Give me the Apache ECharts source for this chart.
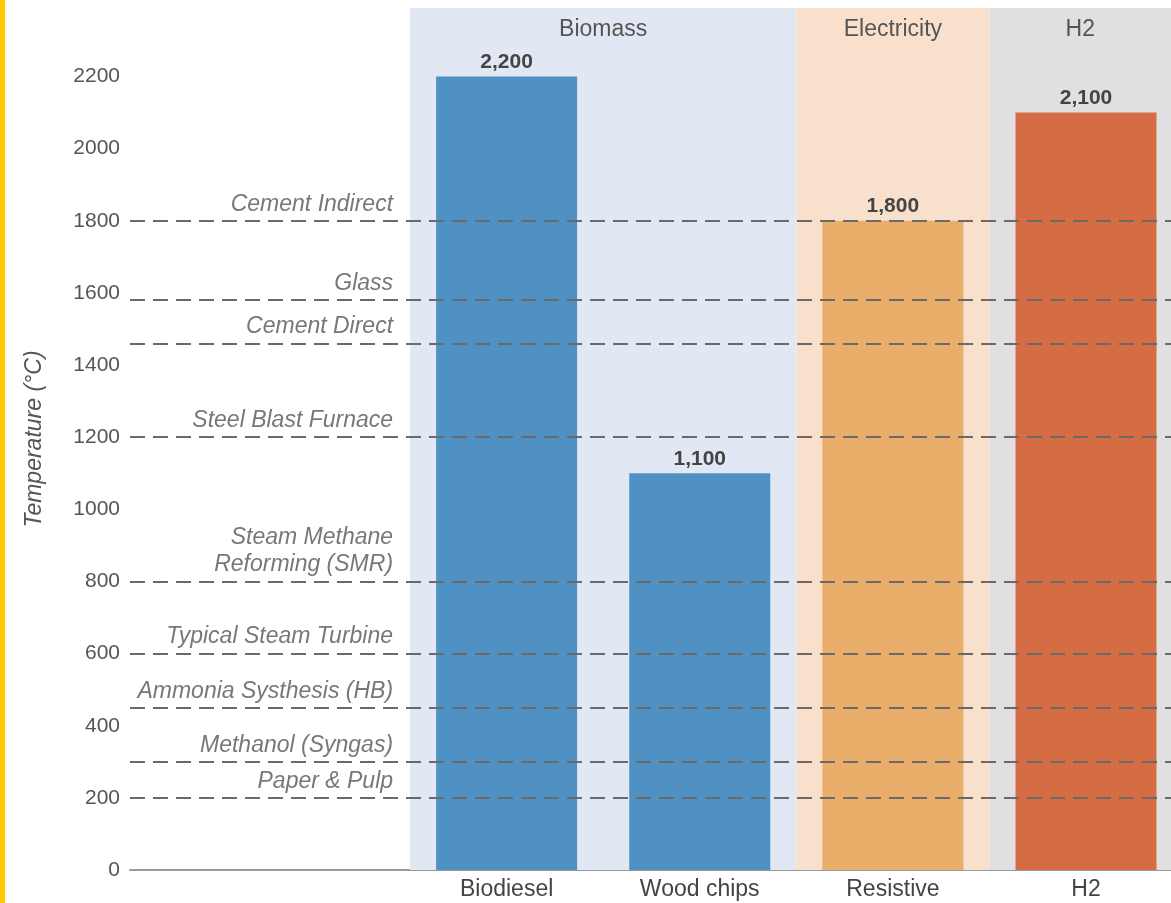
<!DOCTYPE html>
<html>
<head>
<meta charset="utf-8">
<script src="https://cdn.jsdelivr.net/npm/echarts@6/dist/echarts.min.js"></script>
<style>
html,body{margin:0;padding:0;background:#fff;}
#chart{width:1171px;height:903px;}
</style>
</head>
<body>
<div id="chart"></div>
<script>
// ---- data ----
const categories = ['Biodiesel', 'Wood chips', 'Resistive', 'H2'];
const temps = [2200, 1100, 1800, 2100];
const groups = ['Biomass', 'Biomass', 'Electricity', 'H2'];
const processes = ['Cement Indirect', 'Glass', 'Cement Direct', 'Steel Blast Furnace',
  'Steam Methane\nReforming (SMR)', 'Typical Steam Turbine', 'Ammonia Systhesis (HB)',
  'Methanol (Syngas)', 'Paper & Pulp'];
const processTemps = [1800, 1580, 1460, 1200, 800, 600, 450, 300, 200];

// ---- styles ----
const FONT = "'Liberation Sans', Arial, sans-serif";
const Y_MAX = 2390;
const groupColors = { 'Biomass': '#e1e8f3', 'Electricity': '#f8e0cd', 'H2': '#e0e0e2' };
const barColors = { 'Biodiesel': '#4f91c3', 'Wood chips': '#4f91c3', 'Resistive': '#e9ae69', 'H2': '#d66c43' };

// group spans from category indices
const groupOrder = [];
groups.forEach(g => { if (!groupOrder.includes(g)) groupOrder.push(g); });
const markAreaData = groupOrder.map(g => {
  const idx = groups.map((x, i) => x === g ? i : -1).filter(i => i >= 0);
  return [
    { name: g, xAxis: Math.min(...idx) - 0.5, yAxis: Y_MAX, itemStyle: { color: groupColors[g] } },
    { xAxis: Math.max(...idx) + 0.5, yAxis: 0 }
  ];
});

const LABEL_X = -0.588; // right edge of process labels in axis units

const chart = echarts.init(document.getElementById('chart'), null, { renderer: 'canvas' });
chart.setOption({
  animation: false,
  backgroundColor: '#ffffff',
  textStyle: { fontFamily: FONT },
  graphic: [{ type: 'rect', left: 0, top: 0, shape: { width: 5, height: 903 }, style: { fill: '#ffcc00' }, z: 100 }],
  grid: { left: 130, right: 0, top: 8, bottom: 33, containLabel: false },
  xAxis: {
    type: 'value', min: -1.95, max: 3.44,
    splitLine: { show: false },
    axisTick: { show: false },
    axisLine: { show: true, onZero: false, lineStyle: { color: '#9a9a9a', width: 2 } },
    axisLabel: {
      customValues: categories.map((c, i) => i),
      formatter: v => categories[Math.round(v)] || '',
      color: '#444', fontSize: 23, fontFamily: FONT, margin: 8
    }
  },
  yAxis: {
    type: 'value', min: 0, max: Y_MAX, interval: 200,
    splitLine: { show: false },
    axisLine: { show: false },
    axisTick: { show: false },
    axisLabel: { showMaxLabel: false, formatter: v => String(v), color: '#555', fontSize: 21, fontFamily: FONT, margin: 10 },
    name: 'Temperature (°C)', nameLocation: 'middle', nameGap: 84,
    nameTextStyle: { fontStyle: 'italic', color: '#555', fontSize: 23, fontFamily: FONT }
  },
  series: [
    {
      type: 'bar',
      barWidth: 141,
      data: categories.map((c, i) => ({ value: [i, temps[i]], itemStyle: { color: barColors[c] } })),
      label: {
        show: true, position: 'top', distance: 4,
        formatter: p => p.value[1].toLocaleString('en-US'),
        fontWeight: 'bold', fontSize: 21, color: '#444', fontFamily: FONT
      },
      markArea: {
        silent: true,
        label: { show: true, position: 'insideTop', distance: 10, color: '#555', fontSize: 23, fontFamily: FONT },
        data: markAreaData
      },
      z: 2
    },
    {
      type: 'scatter',
      symbolSize: 0,
      data: processes.map((p, i) => ({ value: [LABEL_X, processTemps[i]], name: p })),
      label: {
        show: true, position: 'top', align: 'right', verticalAlign: 'bottom', distance: 3,
        formatter: p => p.name,
        fontStyle: 'italic', fontSize: 23, lineHeight: 27, color: '#555', fontFamily: FONT
      },
      markLine: {
        silent: true, symbol: 'none',
        label: { show: false },
        lineStyle: { type: [15, 8], color: '#6a6a6a', width: 2 },
        data: processTemps.map(v => ({ yAxis: v }))
      },
      z: 10
    }
  ]
});
</script>
</body>
</html>
